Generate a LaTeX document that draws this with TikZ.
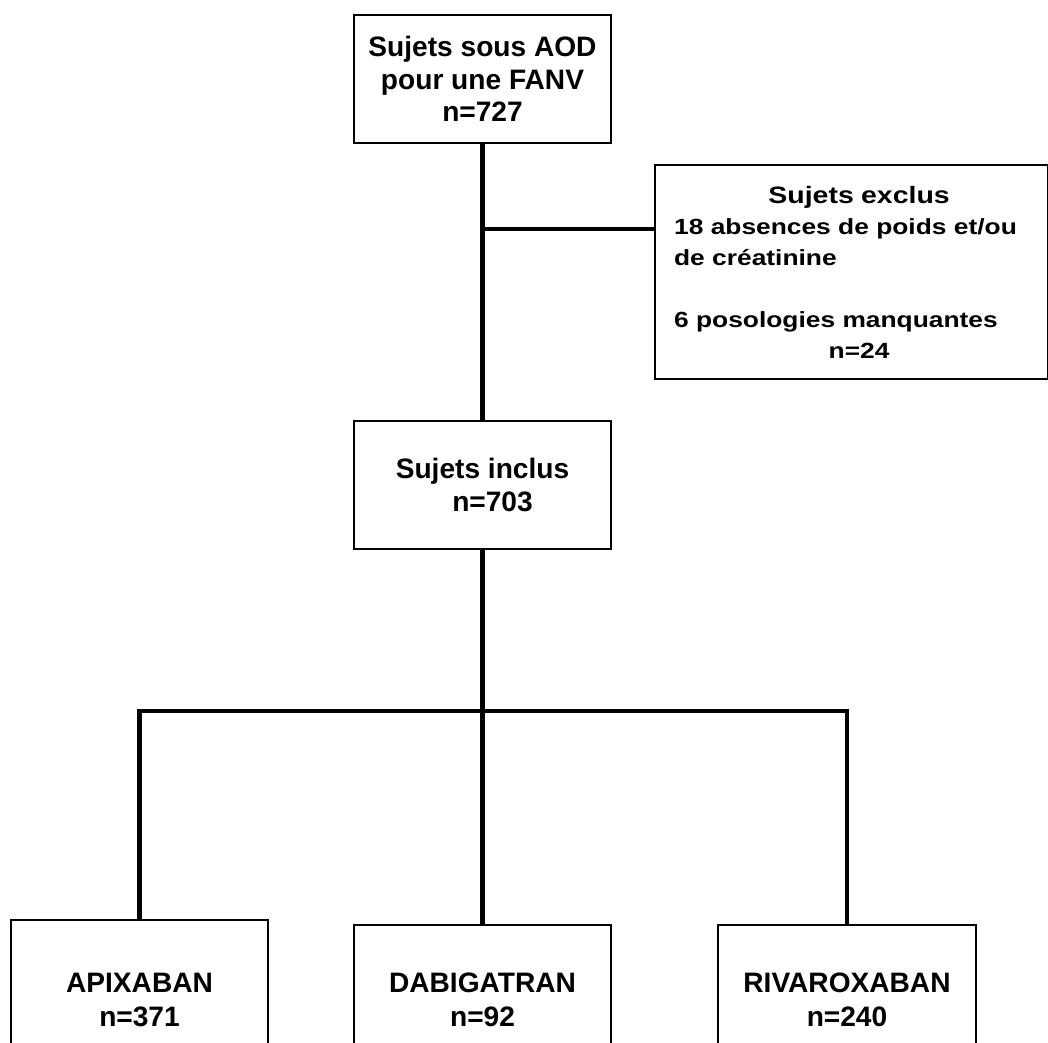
\documentclass[tikz,border=0pt]{standalone}
\usepackage{fontspec}
\setmainfont{Liberation Sans}
\newfontfamily\exclfont{Liberation Sans}[FakeStretch=1.2]
\tikzset{
    box/.style={draw, line width=1.3pt, align=center, inner sep=0pt,
            minimum width=5.15cm, minimum height=2.56cm,
            font=\bfseries\fontsize{16}{18.5}\selectfont},
    drug/.style={box, minimum height=3cm, font=\bfseries\fontsize{16}{19.3}\selectfont},
    exclbox/.style={box, anchor=north west, minimum width=7.86cm, minimum height=4.28cm,
            text width=7.1cm, align=left, font=\exclfont\bfseries\fontsize{12.5}{17.6}\selectfont},
    link/.style={line width=2.5pt},
}

\begin{document}
\begin{tikzpicture}[x=0.02cm, y=-0.02cm]
        \clip (0,0) rectangle (1048,1043);
        %draw the boxes
        \node[box] (total) at (482.5,79) {Sujets sous AOD\\pour une FANV\\n=727};
        \node[exclbox] (excl) at (654,164) {\makebox[\hsize]{\hspace*{0.3cm}\fontsize{13.5}{17.6}\selectfont Sujets exclus}\\18 absences de poids et/ou\\de créatinine\\[0.62cm]6 posologies manquantes\\\makebox[\hsize]{\hspace*{0.3cm}n=24}};
        \node[box] (inclus) at (482.5,485) {Sujets inclus\\\hspace*{0.4cm}n=703};
        \node[drug, minimum height=3.2cm] (apix) at (139.5,1000) {APIXABAN\\n=371};
        \node[drug] (dabi) at (482.5,1000) {DABIGATRAN\\n=92};
        \node[drug] (riva) at (847,1000) {RIVAROXABAN\\n=240};
        %draw the connectors
        \coordinate (branch) at (482.5,229);
        \coordinate (split) at (482.5,711);
        \draw[link] (total.south) -- (inclus.north);
        \draw[link] (branch) -- (branch -| excl.west);
        \draw[link] (inclus.south) -- (dabi.north);
        \draw[link] (apix.north) -- (apix.north |- split) -- (riva.north |- split) -- (riva.north);
    \end{tikzpicture}
\end{document}
